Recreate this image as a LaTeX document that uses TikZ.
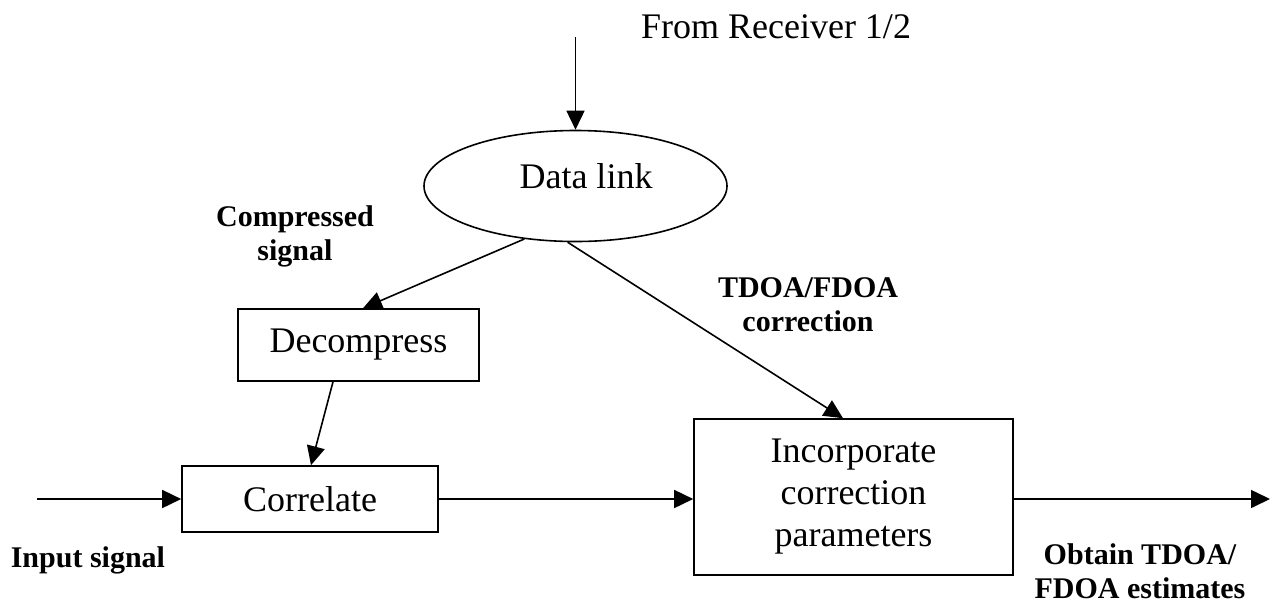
\documentclass[tikz,border=0pt]{standalone}
\usepackage{fontspec}
\setmainfont{Liberation Serif}
\usetikzlibrary{shapes.geometric,arrows.meta,calc}
\begin{document}
\begin{tikzpicture}[x=1pt,y=-1pt,
  line width=1.6pt,
  arr/.style={-{Triangle[length=19pt,width=18pt]}},
  blk/.style={draw, rectangle, inner sep=0pt, font=\fontsize{36}{42}\selectfont, align=center},
  big/.style={font=\fontsize{36}{42}\selectfont, inner sep=0pt},
  lbl/.style={font=\fontsize{30}{34}\selectfont\bfseries, inner sep=0pt, align=center}]
\useasboundingbox (0,0) rectangle (1272,606);
% blocks
\node[blk, minimum width=241, minimum height=72] (dec) at (358.5,345) {Decompress};
\node[blk, minimum width=256, minimum height=66] (cor) at (310,499) {Correlate};
\node[blk, minimum width=319, minimum height=156] (inc) at (853.5,497) {Incorporate\\correction\\parameters};
\node[draw, ellipse, minimum width=303, minimum height=111, inner sep=0pt] (dl) at (575.5,186) {};
\node[big] (dlt) at (586,176.5) {Data link};
% labels
\node[big, anchor=base] (from) at (776,38) {From Receiver 1/2};
\node[lbl] (cs) at (295,236) {Compressed\\signal};
\node[lbl] (tf) at (808,305) {TDOA/FDOA\\correction};
\node[lbl, anchor=base west] (in) at (10,567) {Input signal};
\node[lbl] (ob) at (1140,571) {Obtain TDOA/\\FDOA estimates};
% free ends
\coordinate (top) at (575.5,37);
\coordinate (src) at (37,499);
\coordinate (dst) at (1270,499);
% connectors
\draw[arr] (top) -- (dl.north);
\draw[arr] (dl.226) -- ($(dec.north)+(4.5,0)$);
\draw[arr] (dl.262) -- ($(inc.north)+(-10.5,0)$);
\draw[arr] ($(dec.south)+(-25.5,0)$) -- ($(cor.north)+(1,0)$);
\draw[arr] (src) -- (cor.west);
\draw[arr] (cor.east) -- (cor.east -| inc.west);
\draw[arr] (cor.east -| inc.east) -- (dst);
\end{tikzpicture}
\end{document}
